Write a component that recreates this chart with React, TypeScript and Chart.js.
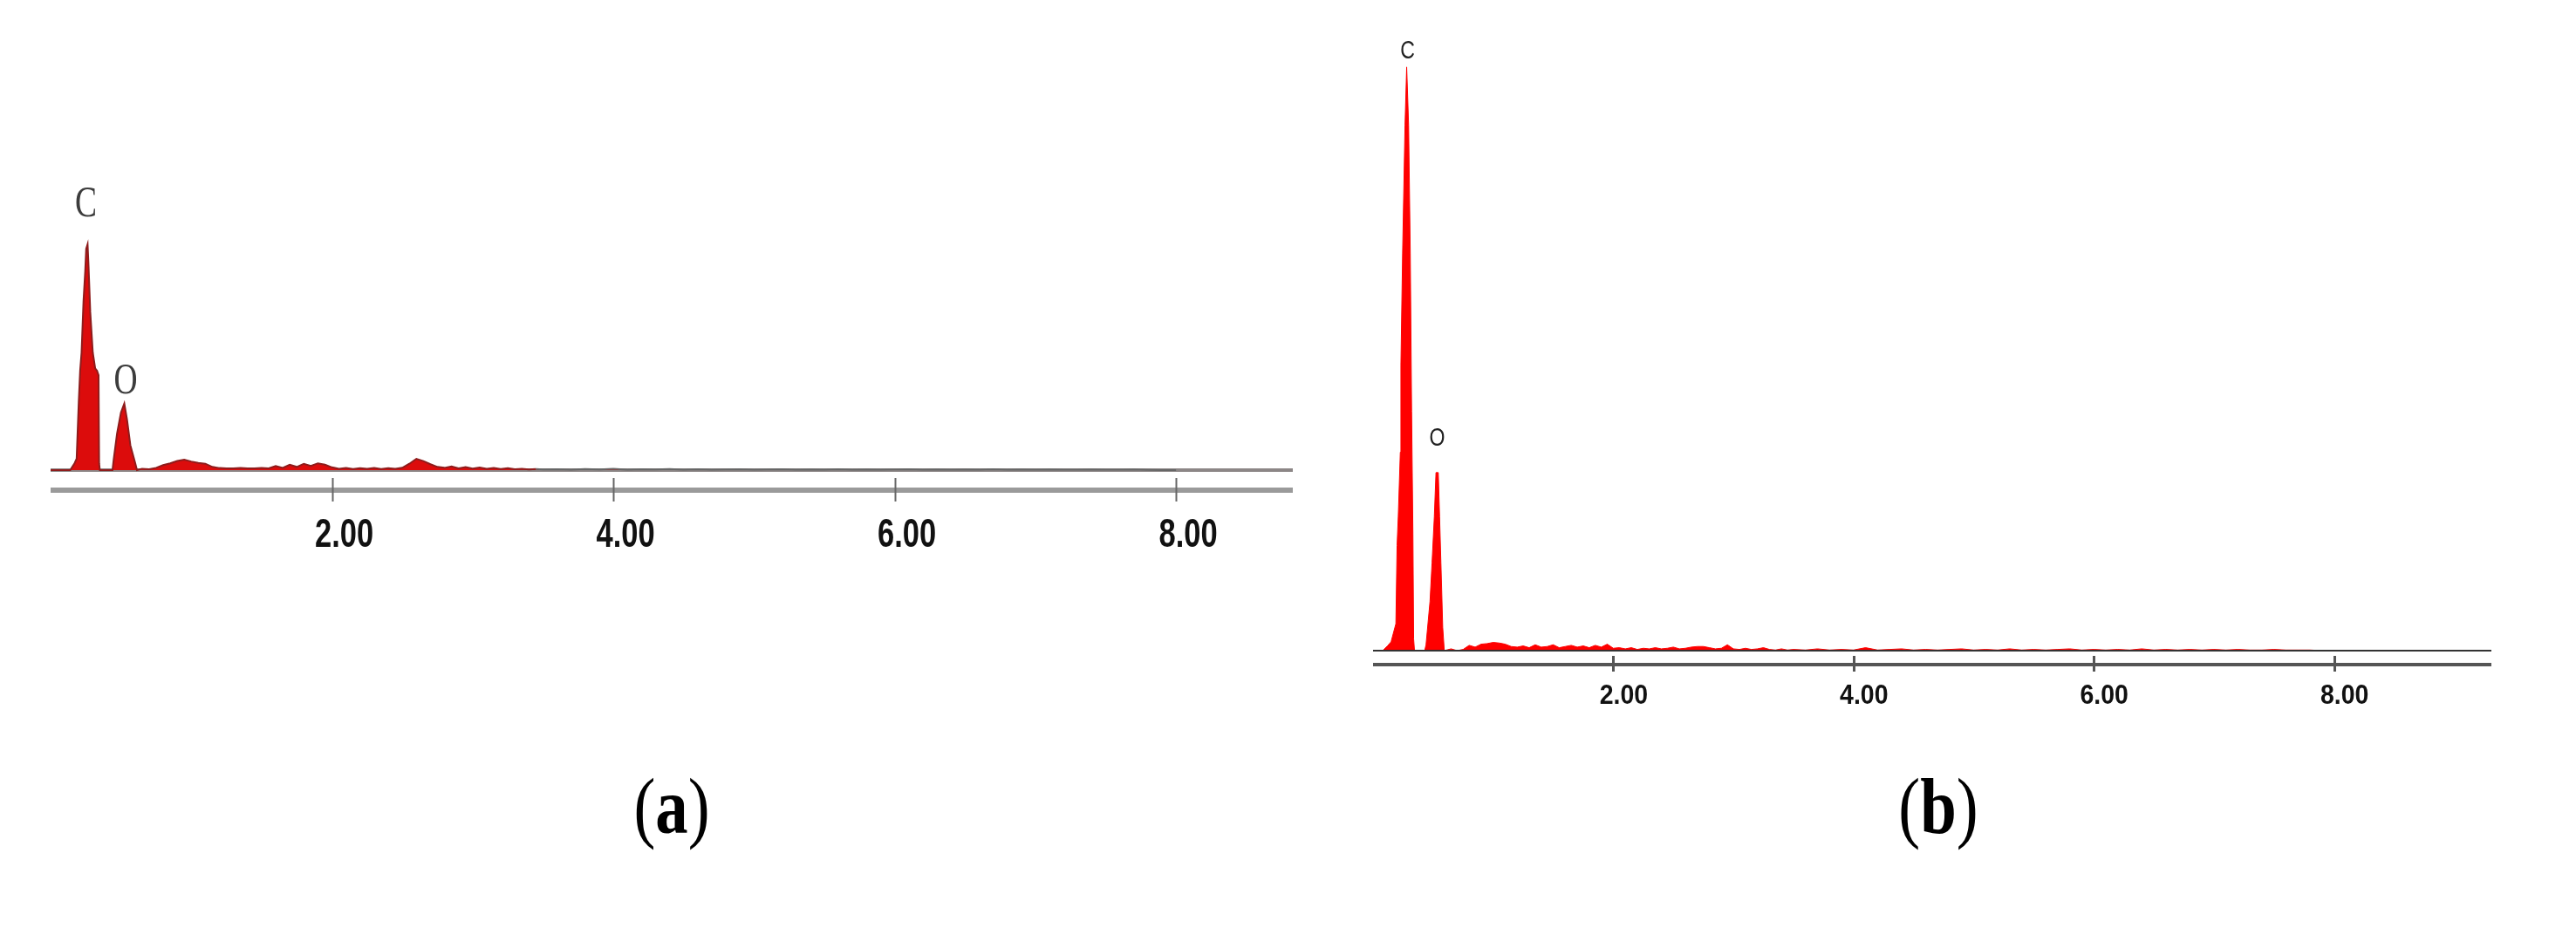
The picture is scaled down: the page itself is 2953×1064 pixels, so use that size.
import React, { useEffect, useRef } from 'react';
import { Chart, registerables } from 'chart.js';

Chart.register(...registerables);

// ---------------- DATA ----------------
// Panel (a): peak region channels (keV) and counts
const peakKeVA = [0, 0.14, 0.15, 0.17, 0.185, 0.2, 0.21, 0.22, 0.234, 0.246, 0.253, 0.263, 0.27, 0.282, 0.3, 0.317, 0.33, 0.341, 0.345, 0.35,
  0.44, 0.448, 0.472, 0.5, 0.524, 0.543, 0.567, 0.602, 0.614];
const peakCountsA = [0, 0, 10, 30, 50, 300, 440, 520, 750, 880, 980, 1000, 900, 700, 520, 450, 440, 420, 30, 0,
  0, 45, 160, 255, 295, 225, 110, 30, 0];

// Panel (b): peak region channels (keV) and counts
const peakKeVB = [0, 0.08, 0.12, 0.15, 0.19, 0.2, 0.21, 0.227, 0.232, 0.246, 0.266, 0.28, 0.296, 0.31, 0.321, 0.332, 0.338, 0.345,
  0.43, 0.441, 0.474, 0.491, 0.51, 0.524, 0.543, 0.554, 0.565, 0.58, 0.593];
const peakCountsB = [0, 0, 8, 15, 46, 180, 230, 340, 490, 680, 900, 1000, 900, 680, 410, 200, 20, 0,
  0, 10, 84, 150, 229, 305, 305, 229, 150, 40, 0];

// Background / noise channels shared by both spectra
const noiseKeV = [
  0.65, 0.70, 0.75, 0.80, 0.85, 0.90, 0.95, 1.00, 1.05, 1.10,
  1.15, 1.20, 1.25, 1.30, 1.35, 1.40, 1.45, 1.50, 1.55, 1.60,
  1.65, 1.70, 1.75, 1.80, 1.85, 1.90, 1.95, 2.00, 2.05, 2.10,
  2.15, 2.20, 2.25, 2.30, 2.35, 2.40, 2.45, 2.50, 2.55, 2.60,
  2.65, 2.70, 2.75, 2.80, 2.85, 2.90, 2.95, 3.00, 3.05, 3.10,
  3.15, 3.20, 3.25, 3.30, 3.35, 3.40, 3.45, 3.50,
  3.6, 3.7, 3.8, 3.9, 4.0, 4.1, 4.2, 4.3, 4.4, 4.5,
  4.6, 4.7, 4.8, 4.9, 5.0, 5.1, 5.2, 5.3, 5.4, 5.5,
  5.6, 5.7, 5.8, 5.9, 6.0, 6.1, 6.2, 6.3, 6.4, 6.5,
  6.6, 6.7, 6.8, 6.9, 7.0, 7.1, 7.2, 7.3, 7.4, 7.5,
  7.6, 7.7, 7.8, 7.9, 8.0,
];
const noiseCountsA = [
  6, 4, 10, 22, 30, 40, 46, 38, 32, 28,
  14, 9, 8, 8, 9, 8, 8, 9, 8, 18,
  10, 24, 14, 28, 18, 30, 24, 12, 6, 9,
  5, 8, 6, 9, 5, 8, 6, 10, 28, 50,
  40, 26, 14, 10, 16, 8, 13, 7, 11, 6,
  9, 5, 8, 4, 6, 3, 5, 3,
  4, 2, 5, 3, 6, 2, 4, 3, 5, 2,
  4, 2, 3, 4, 2, 3, 4, 2, 3, 2,
  4, 2, 3, 2, 3, 4, 2, 3, 2, 3,
  2, 4, 2, 3, 2, 3, 2, 2, 3, 2,
  2, 3, 1, 0, 0,
];
const noiseCountsB = [
  3, 0, 2, 9, 6, 11, 12, 14, 13, 11,
  7, 6, 8, 5, 10, 6, 7, 10, 5, 7,
  9, 6, 8, 5, 9, 6, 11, 4, 5, 3,
  5, 2, 4, 3, 5, 3, 4, 6, 3, 4,
  6, 7, 7, 5, 3, 4, 10, 3, 2, 4,
  2, 3, 5, 2, 1, 3, 1, 2,
  1, 3, 1, 2, 1, 5, 1, 2, 3, 1,
  2, 1, 2, 3, 1, 2, 1, 3, 1, 2,
  1, 2, 3, 1, 2, 1, 2, 1, 3, 1,
  2, 1, 2, 1, 2, 1, 2, 1, 1, 2,
  1, 1, 1, 0, 0,
];

// Axis ticks
const xTicks = [2, 4, 6, 8];
const xTickLabels = ['2.00', '4.00', '6.00', '8.00'];

// Peak labels
const peakNames = ['C', 'O'];
const peakLabelKeVA = [0.263, 0.524];
const peakLabelCountsA = [1000, 295];
const peakLabelKeVB = [0.28, 0.533];
const peakLabelCountsB = [1000, 305];

const captions = ['a', 'b'];

// ---------------- CONFIG ----------------
type PanelCfg = {
  left: number; top: number; w: number; h: number; axisH: number;
  xMax: number; yMin: number; yMax: number;
  keV: number[]; counts: number[];
  labelKeV: number[]; labelCounts: number[];
  fill: string; border: string; borderW: number; greyAfter: number | null;
  baseColor: string; baseW: number; baseOnTop: boolean;
  axisColor: string; axisW: number;
  tickColor: string; tickW: number; tickUp: number; tickDown: number;
  tickFont: number; tickLabelY: number; tickOffset: number; tickSx: number;
  labFont: string; labColor: string; labSx: number; labDx: number[]; labDy: number[];
};

const panelA: PanelCfg = {
  left: 58, top: 202, w: 1424, h: 460, axisH: 100,
  xMax: 8.83, yMin: -89, yMax: 1301,
  keV: [...peakKeVA, ...noiseKeV], counts: [...peakCountsA, ...noiseCountsA],
  labelKeV: peakLabelKeVA, labelCounts: peakLabelCountsA,
  fill: '#dc0c0c', border: '#8e1c1c', borderW: 2, greyAfter: 3.4,
  baseColor: '#8c8686', baseW: 4, baseOnTop: false,
  axisColor: '#9a9a9a', axisW: 6,
  tickColor: '#666666', tickW: 2, tickUp: 14, tickDown: 13,
  tickFont: 46, tickLabelY: 52, tickOffset: 14, tickSx: 0.75,
  labFont: '50px "Liberation Serif", "Times New Roman", serif', labColor: '#3c3c3c', labSx: 0.75,
  labDx: [-2, 1.5], labDy: [45, 25],
};

const panelB: PanelCfg = {
  left: 1574, top: 30, w: 1282, h: 812, axisH: 80,
  xMax: 9.31, yMin: -24, yMax: 1070,
  keV: [...peakKeVB, ...noiseKeV], counts: [...peakCountsB, ...noiseCountsB],
  labelKeV: peakLabelKeVB, labelCounts: peakLabelCountsB,
  fill: '#ff0000', border: '#ff0000', borderW: 1, greyAfter: null,
  baseColor: '#333333', baseW: 2, baseOnTop: true,
  axisColor: '#555555', axisW: 4,
  tickColor: '#555555', tickW: 3, tickUp: 10, tickDown: 8,
  tickFont: 32, tickLabelY: 36, tickOffset: 12, tickSx: 0.89,
  labFont: '30px "Liberation Sans", Arial, sans-serif', labColor: '#222222', labSx: 0.77,
  labDx: [1, 0], labDy: [18, 39],
};

function buildConfig(c: PanelCfg): any {
  const spectrum = c.keV.map((x, i) => ({ x, y: c.counts[i] }));
  const baseline = [{ x: 0, y: 0 }, { x: c.xMax, y: 0 }];
  const plugin = {
    id: 'edsDecor',
    afterDraw(chart: any) {
      const { ctx, scales, chartArea } = chart;
      const x = scales.x, y = scales.y;
      ctx.save();
      // tick marks crossing the axis
      ctx.strokeStyle = c.tickColor;
      ctx.lineWidth = c.tickW;
      xTicks.forEach((t) => {
        const px = Math.round(x.getPixelForValue(t)) + 0.5;
        ctx.beginPath();
        ctx.moveTo(px, chartArea.bottom - c.tickUp);
        ctx.lineTo(px, chartArea.bottom + c.tickDown);
        ctx.stroke();
      });
      // condensed bold tick labels at the scale's tick positions
      ctx.font = `bold ${c.tickFont}px "Liberation Sans", Arial, sans-serif`;
      ctx.fillStyle = '#111111';
      ctx.textAlign = 'center';
      ctx.textBaseline = 'middle';
      xTicks.forEach((t, i) => {
        const px = x.getPixelForValue(t) + c.tickOffset;
        const py = chartArea.bottom + c.tickLabelY;
        ctx.save();
        ctx.translate(px, py);
        ctx.scale(c.tickSx, 1);
        ctx.fillText(xTickLabels[i], 0, 0);
        ctx.restore();
      });
      // peak labels
      ctx.font = c.labFont;
      ctx.fillStyle = c.labColor;
      peakNames.forEach((n, i) => {
        const px = x.getPixelForValue(c.labelKeV[i]) + c.labDx[i];
        const py = y.getPixelForValue(c.labelCounts[i]) - c.labDy[i];
        ctx.save();
        ctx.translate(px, py);
        ctx.scale(c.labSx, 1);
        ctx.fillText(n, 0, 0);
        ctx.restore();
      });
      ctx.restore();
    },
  };
  return {
    type: 'line',
    data: {
      datasets: [
        {
          data: baseline,
          borderColor: c.baseColor,
          borderWidth: c.baseW,
          pointRadius: 0,
          fill: false,
          order: c.baseOnTop ? 0 : 2,
        },
        {
          data: spectrum,
          borderColor: c.border,
          backgroundColor: c.fill,
          borderWidth: c.borderW,
          pointRadius: 0,
          tension: 0,
          fill: 'origin',
          order: 1,
          segment: c.greyAfter == null ? undefined : {
            borderColor: (ctx: any) => (ctx.p0.parsed.x > (c.greyAfter as number) ? '#666666' : undefined),
          },
        },
      ],
    },
    options: {
      animation: false,
      responsive: false,
      devicePixelRatio: 1,
      layout: { padding: 0 },
      plugins: { legend: { display: false }, tooltip: { enabled: false }, title: { display: false } },
      events: [],
      scales: {
        x: {
          type: 'linear',
          position: 'bottom',
          min: 0,
          max: c.xMax,
          grid: { display: false, drawTicks: false },
          border: { display: true, color: c.axisColor, width: c.axisW },
          afterBuildTicks: (s: any) => { s.ticks = xTicks.map((v) => ({ value: v })); },
          afterFit: (s: any) => { s.height = c.axisH; },
          ticks: { display: false },
        },
        y: { type: 'linear', display: false, min: c.yMin, max: c.yMax },
      },
    },
    plugins: [plugin],
  };
}

function Panel({ cfg }: { cfg: PanelCfg }) {
  const ref = useRef<HTMLCanvasElement>(null);
  useEffect(() => {
    const chart = new Chart(ref.current as HTMLCanvasElement, buildConfig(cfg));
    return () => chart.destroy();
  }, [cfg]);
  return (
    <canvas
      ref={ref}
      width={cfg.w}
      height={cfg.h}
      style={{ position: 'absolute', left: cfg.left, top: cfg.top, width: cfg.w, height: cfg.h }}
    />
  );
}

function Caption({ letter, cx }: { letter: string; cx: number }) {
  return (
    <div
      style={{
        position: 'absolute',
        left: cx - 150,
        top: 880,
        width: 300,
        textAlign: 'center',
        fontFamily: '"Liberation Serif", "Times New Roman", serif',
        fontSize: 90,
        lineHeight: '90px',
        color: '#000',
        transform: 'scaleX(0.83)',
        whiteSpace: 'nowrap',
      }}
    >
      (<b>{letter}</b>)
    </div>
  );
}

export default function App() {
  return (
    <div style={{ position: 'absolute', left: 0, top: 0, width: 2953, height: 1064, background: '#fff', overflow: 'hidden' }}>
      <Panel cfg={panelA} />
      <Panel cfg={panelB} />
      <Caption letter={captions[0]} cx={770} />
      <Caption letter={captions[1]} cx={2222} />
    </div>
  );
}
